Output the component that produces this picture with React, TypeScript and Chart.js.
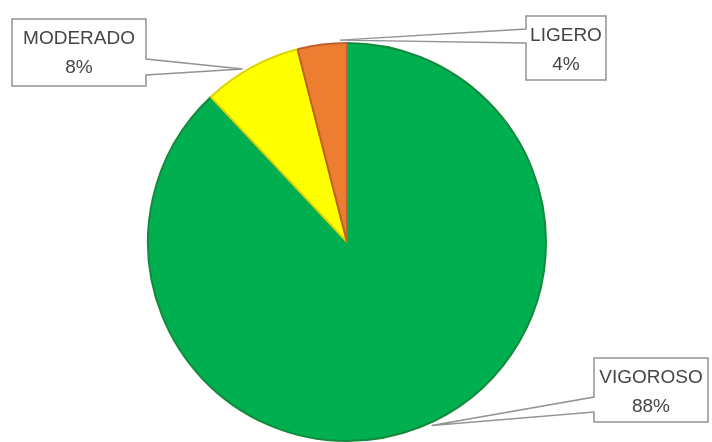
import React, { useEffect, useRef } from "react";
import { Chart, registerables } from "chart.js";

Chart.register(...registerables);

const categories = ["VIGOROSO", "MODERADO", "LIGERO"];
const values = [88, 8, 4];
const percentLabels = ["88%", "8%", "4%"];
const sliceColors = ["#00B050", "#FFFF00", "#ED7D31"];
const sliceBorders = ["#138a3c", "#dcd400", "#c0602a"];

// label box layout: [x, y, w, h, side of pointer, base y1, base y2, anchor fraction along arc]
const boxLayout: any[] = [
  { x: 594, y: 358, w: 114, h: 64, side: "left", b1: 397, b2: 412, frac: 0.49 },
  { x: 12, y: 19, w: 134, h: 67, side: "right", b1: 59, b2: 75, frac: 0.42 },
  { x: 526, y: 16, w: 80, h: 64, side: "left", b1: 29, b2: 43, frac: 0.86 },
];

const calloutPlugin = {
  id: "callouts",
  afterDatasetsDraw(chart: any) {
    const ctx = chart.ctx;
    const meta = chart.getDatasetMeta(0);
    meta.data.forEach((arc: any, i: number) => {
      const L = boxLayout[i];
      const { x: cx, y: cy, startAngle, endAngle, outerRadius } = arc.getProps(
        ["x", "y", "startAngle", "endAngle", "outerRadius"],
        true
      );
      const a = startAngle + (endAngle - startAngle) * L.frac;
      const tx = cx + Math.cos(a) * (outerRadius + 3);
      const ty = cy + Math.sin(a) * (outerRadius + 3);
      const { x, y, w, h } = L;
      ctx.save();
      ctx.beginPath();
      if (L.side === "right") {
        ctx.moveTo(x, y);
        ctx.lineTo(x + w, y);
        ctx.lineTo(x + w, L.b1);
        ctx.lineTo(tx, ty);
        ctx.lineTo(x + w, L.b2);
        ctx.lineTo(x + w, y + h);
        ctx.lineTo(x, y + h);
        ctx.closePath();
      } else {
        ctx.moveTo(x, y);
        ctx.lineTo(x + w, y);
        ctx.lineTo(x + w, y + h);
        ctx.lineTo(x, y + h);
        ctx.lineTo(x, L.b2);
        ctx.lineTo(tx, ty);
        ctx.lineTo(x, L.b1);
        ctx.closePath();
      }
      ctx.fillStyle = "#ffffff";
      ctx.fill();
      ctx.lineWidth = 1.5;
      ctx.strokeStyle = "#939393";
      ctx.stroke();
      ctx.fillStyle = "#454545";
      ctx.font = "19px 'Liberation Sans', Arial, sans-serif";
      ctx.textAlign = "center";
      ctx.textBaseline = "middle";
      ctx.fillText(categories[i], x + w / 2, y + 20);
      ctx.fillText(percentLabels[i], x + w / 2, y + 49);
      ctx.restore();
    });
  },
};

export default function App() {
  const ref = useRef<HTMLCanvasElement>(null);
  useEffect(() => {
    if (!ref.current) return;
    const chart = new Chart(ref.current, {
      type: "pie",
      data: {
        labels: categories,
        datasets: [
          {
            data: values,
            backgroundColor: sliceColors,
            borderColor: sliceBorders,
            borderWidth: 2,
          },
        ],
      },
      options: {
        responsive: false,
        animation: false,
        layout: { padding: { top: 42, bottom: 0, left: 0, right: 18 } },
        plugins: {
          legend: { display: false },
          tooltip: { enabled: false },
        },
      },
      plugins: [calloutPlugin],
    });
    return () => chart.destroy();
  }, []);
  return (
    <div style={{ position: "absolute", left: 0, top: 0, width: 712, height: 442, background: "#ffffff" }}>
      <canvas ref={ref} width={712} height={442} style={{ display: "block" }} />
    </div>
  );
}
